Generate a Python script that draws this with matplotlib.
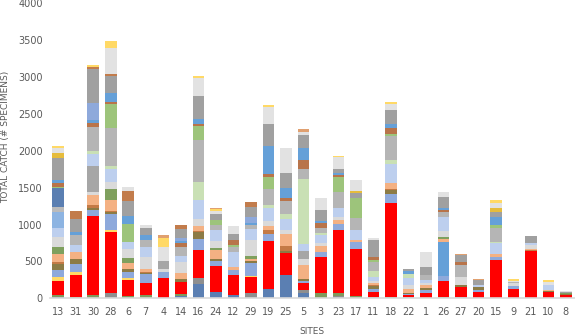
import matplotlib
matplotlib.use('Agg')
import matplotlib.pyplot as plt
import numpy as np

# sites along the x axis (order as in the chart)
sites = ['13', '31', '30', '28', '6', '7', '4', '14', '16', '24', '12', '29', '19', '25', '5',
         '3', '23', '17', '11', '18', '22', '1', '26', '27', '20', '15', '9', '21', '10', '8']

# catch per taxon group, stacked bottom -> top (# specimens)
steel    = [15, 0, 0, 0, 0, 0, 10, 30, 200, 81, 40, 0, 122, 311, 77, 0, 0, 0, 0, 0, 0, 10, 0, 0, 0, 0, 0, 0, 0, 0]
dgray_b  = [0, 10, 0, 77, 0, 0, 0, 0, 75, 0, 0, 68, 0, 0, 31, 0, 30, 0, 22, 0, 22, 0, 0, 22, 10, 10, 10, 10, 10, 10]
olive_b  = [30, 12, 40, 0, 31, 45, 0, 29, 0, 0, 0, 0, 0, 0, 0, 68, 38, 36, 0, 22, 0, 0, 22, 0, 0, 0, 0, 0, 0, 0]
red      = [190, 300, 1073, 825, 216, 158, 262, 167, 379, 361, 270, 216, 650, 302, 95,
            496, 857, 636, 63, 1272, 22, 59, 216, 126, 75, 509, 116, 626, 71, 35]
yellow_a = [55, 36, 0, 31, 25, 0, 0, 0, 0, 0, 0, 18, 0, 0, 0, 0, 0, 0, 0, 0, 0, 0, 0, 0, 0, 0, 0, 0, 0, 0]
mblue    = [90, 104, 81, 216, 90, 122, 90, 0, 149, 68, 72, 171, 99, 0, 32, 68, 81, 90, 40, 126, 20, 45, 59, 0, 30, 45, 45, 0, 0, 0]
blue_lo  = [0, 0, 0, 0, 0, 0, 0, 0, 0, 0, 0, 0, 0, 0, 0, 0, 0, 0, 0, 0, 0, 0, 469, 0, 0, 0, 0, 0, 0, 0]
olivebr  = [90, 77, 34, 20, 30, 22, 0, 31, 90, 22, 0, 30, 0, 31, 32, 0, 0, 0, 36, 45, 11, 30, 0, 31, 45, 0, 0, 0, 15, 12]
brown_a  = [25, 0, 34, 16, 0, 10, 0, 0, 22, 0, 0, 0, 54, 68, 0, 0, 0, 0, 20, 22, 0, 0, 0, 0, 0, 0, 0, 15, 0, 0]
peach    = [100, 90, 135, 144, 90, 40, 0, 81, 68, 126, 45, 30, 59, 158, 181, 77, 54, 27, 25, 81, 50, 38, 36, 0, 0, 36, 0, 12, 16, 0]
olive_g  = [100, 0, 0, 149, 59, 0, 0, 0, 0, 22, 0, 38, 0, 0, 0, 0, 0, 0, 0, 0, 0, 0, 36, 0, 0, 0, 0, 0, 0, 10]
lgray    = [130, 0, 45, 99, 129, 166, 31, 158, 90, 100, 0, 218, 68, 54, 89, 45, 45, 0, 30, 0, 50, 30, 77, 113, 0, 0, 31, 54, 0, 0]
gray_lo  = [0, 0, 350, 0, 0, 0, 117, 0, 0, 0, 0, 0, 0, 0, 103, 0, 0, 0, 0, 0, 0, 0, 0, 0, 0, 0, 0, 0, 0, 0]
periw    = [127, 90, 166, 180, 99, 135, 0, 77, 257, 153, 203, 158, 180, 149, 91, 104, 126, 135, 59, 257, 105, 38, 189, 0, 24, 144, 0, 36, 68, 0]
lblue_d  = [221, 0, 0, 0, 0, 0, 0, 0, 0, 0, 0, 0, 0, 0, 0, 0, 0, 0, 0, 0, 0, 0, 0, 0, 0, 0, 0, 0, 0, 0]
gray_lo2 = [68, 0, 0, 0, 0, 0, 0, 0, 0, 0, 0, 0, 0, 0, 0, 0, 0, 0, 0, 0, 0, 0, 0, 0, 0, 0, 0, 0, 0, 0]
steel_m  = [250, 0, 0, 0, 0, 0, 0, 0, 0, 0, 0, 0, 0, 0, 0, 0, 0, 0, 0, 0, 0, 0, 0, 0, 0, 0, 0, 0, 0, 0]
lgreen   = [0, 0, 36, 36, 0, 0, 0, 0, 248, 0, 0, 0, 36, 68, 893, 22, 0, 0, 81, 45, 45, 0, 0, 0, 0, 22, 0, 0, 0, 0]
gray_l   = [0, 136, 333, 513, 0, 90, 0, 126, 564, 68, 68, 45, 212, 180, 135, 68, 212, 163, 122, 338, 0, 68, 68, 158, 0, 194, 22, 0, 0, 0]
green    = [22, 0, 0, 329, 239, 0, 0, 0, 194, 59, 30, 0, 167, 0, 0, 0, 203, 275, 22, 20, 0, 0, 0, 0, 0, 31, 0, 0, 0, 0]
brown_b  = [45, 0, 50, 31, 0, 0, 0, 54, 31, 0, 60, 0, 36, 45, 122, 68, 22, 0, 45, 79, 0, 0, 22, 45, 0, 0, 0, 0, 0, 0]
blue     = [46, 45, 45, 126, 108, 68, 0, 30, 72, 0, 0, 34, 383, 135, 158, 36, 31, 0, 0, 59, 45, 0, 36, 0, 0, 113, 0, 0, 0, 0]
mblue_b  = [0, 0, 234, 0, 0, 0, 0, 29, 0, 0, 0, 79, 0, 0, 0, 0, 0, 0, 0, 0, 0, 0, 0, 0, 0, 0, 0, 0, 0, 0]
gray_d   = [300, 180, 451, 225, 200, 99, 0, 135, 311, 90, 90, 140, 302, 203, 180, 144, 59, 72, 225, 189, 31, 113, 144, 90, 68, 68, 0, 90, 0, 22]
brown_t  = [0, 100, 27, 22, 135, 0, 0, 54, 0, 0, 0, 63, 0, 0, 0, 0, 0, 0, 0, 0, 0, 0, 0, 0, 0, 0, 0, 0, 0, 0]
gold     = [68, 0, 0, 0, 0, 0, 0, 0, 0, 0, 0, 0, 0, 0, 0, 0, 0, 22, 0, 0, 0, 0, 0, 0, 0, 59, 0, 0, 0, 0]
lgray_d  = [70, 0, 0, 361, 60, 36, 189, 0, 237, 36, 99, 0, 225, 338, 41, 171, 160, 144, 31, 81, 0, 200, 67, 0, 0, 63, 16, 9, 45, 11]
yellow   = [20, 0, 31, 90, 0, 0, 113, 0, 30, 20, 0, 0, 36, 0, 0, 0, 18, 10, 0, 32, 0, 0, 0, 0, 0, 45, 16, 0, 22, 0]
top_t    = [0, 0, 0, 0, 0, 0, 45, 0, 0, 25, 0, 0, 0, 0, 36, 0, 0, 0, 0, 0, 0, 0, 0, 22, 14, 0, 0, 0, 0, 0]

# stacking order with the colour of each layer
layers = [(steel, '#5B7FB2'), (dgray_b, '#8F8F8F'), (olive_b, '#7F9A5C'), (red, '#FF0000'),
          (yellow_a, '#FFD966'), (mblue, '#8EA9DB'), (blue_lo, '#65A0D8'), (olivebr, '#8C7B45'),
          (brown_a, '#C47A45'), (peach, '#F4B183'), (olive_g, '#7FA05E'), (lgray, '#DADADA'),
          (gray_lo, '#A6A6A6'), (periw, '#BDCFEE'), (lblue_d, '#8DB4E2'), (gray_lo2, '#BBBBBB'),
          (steel_m, '#5B7FB2'), (lgreen, '#C9E0B5'), (gray_l, '#B5B5B5'), (green, '#9DC47B'),
          (brown_b, '#B8744A'), (blue, '#65A0D8'), (mblue_b, '#8EA9DB'), (gray_d, '#A0A0A0'),
          (brown_t, '#C27C4C'), (gold, '#E6BC3C'), (lgray_d, '#E2E2E2'), (yellow, '#FFD966'),
          (top_t, '#E0A070')]

fig = plt.figure(figsize=(5.75, 3.36), dpi=100)
ax = fig.add_axes([0.0861, 0.1122, 0.9132, 0.8774])

x = np.arange(len(sites))
bottom = np.zeros(len(sites))
for vals, col in layers:
    ax.bar(x, vals, width=0.66, bottom=bottom, color=col, linewidth=0)
    bottom += np.array(vals)

ax.set_xlim(-0.5, len(sites) - 0.5)
ax.set_ylim(0, 4000)
ax.set_yticks(range(0, 4001, 500))
ax.set_xticks(x)
ax.set_xticklabels(sites)

# excel-like look: only a light category axis line
for s in ['top', 'right', 'left']:
    ax.spines[s].set_visible(False)
ax.spines['bottom'].set_color('#D9D9D9')
ax.spines['bottom'].set_linewidth(1.2)
ax.tick_params(axis='both', length=0, colors='#595959', labelsize=7)
ax.tick_params(axis='y', pad=5)
ax.tick_params(axis='x', pad=6.5)

fig.text(312 / 575, 1 - 332 / 336, 'SITES', ha='center', va='center', fontsize=6.5, color='#595959')
fig.text(5.5 / 575, 1 - 137 / 336, 'TOTAL CATCH (# SPECIMENS)', ha='center', va='center',
         rotation=90, fontsize=6.5, color='#595959')

fig.savefig('out.png', dpi=100)
